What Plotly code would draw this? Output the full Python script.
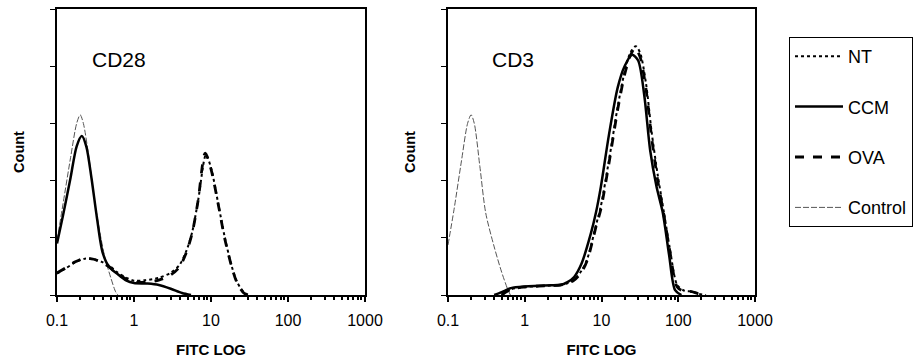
import plotly.graph_objects as go

# ---------------- data ----------------
series_names = ["NT", "CCM", "OVA", "Control"]
tick_vals = [0.1, 1, 10, 100, 1000]
tick_text = ["0.1", "1", "10", "100", "1000"]
panel_titles = ["CD28", "CD3"]

# Left panel (CD28)
nt_L_x = [0.1, 0.13, 0.17, 0.23, 0.3, 0.38, 0.48, 0.6, 0.8, 1.0, 1.4, 2.1, 3, 3.9, 4.8, 5.7, 6.8, 8.6, 10, 12.6, 15, 18.6, 22, 27, 31]
nt_L_y = [7.5, 9.3, 11.3, 12.7, 12.5, 11.6, 10.2, 8, 6, 5, 5.2, 6, 7.8, 10.5, 15.5, 22, 33, 49, 44.5, 31, 20.5, 10, 4.3, 0.8, 0]
ccm_L_x = [0.1, 0.12, 0.15, 0.18, 0.21, 0.24, 0.28, 0.33, 0.39, 0.47, 0.6, 0.8, 1.0, 1.5, 2.1, 3, 4.2, 5.5]
ccm_L_y = [18, 28, 41, 52, 55.6, 52, 41, 27, 15, 10, 7.5, 5, 4.2, 4, 3.5, 2.2, 0.7, 0]
ova_L_x = [0.1, 0.13, 0.17, 0.23, 0.3, 0.38, 0.48, 0.6, 0.8, 1.0, 1.4, 2.1, 3, 3.9, 4.8, 5.7, 6.8, 8.4, 10, 12.6, 15, 18.6, 22, 26.7, 30]
ova_L_y = [7.7, 9.5, 11.5, 12.9, 12.5, 11.3, 9.8, 7.5, 5.5, 4.5, 4.5, 5.2, 7, 9.8, 15, 21.7, 33, 49.6, 44, 30.8, 20, 9.8, 4, 0.7, 0]
ctrl_L_x = [0.1, 0.12, 0.15, 0.18, 0.2, 0.22, 0.26, 0.3, 0.36, 0.42, 0.5, 0.58, 0.62]
ctrl_L_y = [19, 32, 48, 60, 63, 60, 48, 35, 22, 13, 6, 1, 0]

# Right panel (CD3)
nt_R_x = [0.5, 0.66, 1, 1.5, 2.2, 2.9, 3.6, 4.4, 5.5, 6.5, 7.5, 8.5, 9.8, 12.5, 16.3, 20, 24, 28, 32, 38, 45, 54, 65, 78, 97, 120, 150, 180, 230]
nt_R_y = [0, 2, 2.8, 3.1, 3.3, 3.5, 4.1, 5.4, 8.5, 12.5, 18.5, 24.5, 31, 47, 66, 78, 85, 87, 84.5, 74, 57, 42, 29, 16, 3.5, 1.5, 1.2, 0.5, 0]
ccm_R_x = [0.4, 0.5, 0.66, 1, 1.5, 2.2, 2.9, 3.6, 4.4, 5.5, 7.3, 8.5, 9.8, 12.5, 16.3, 20, 25, 30, 36, 43, 52, 63, 76, 91, 110]
ccm_R_y = [0, 1, 2.4, 3, 3.2, 3.4, 3.5, 4.5, 6.3, 11, 21.7, 29, 37.8, 56, 72.7, 80, 84, 82, 70, 50.7, 38, 28.7, 14, 1.7, 0]
ova_R_x = [0.5, 0.66, 1, 1.5, 2.2, 2.9, 3.6, 4.4, 5.5, 6.5, 7.5, 8.5, 9.8, 12.5, 16.3, 20, 24, 27.5, 32, 38, 45, 54, 65, 78, 97, 120, 150, 180, 230]
ova_R_y = [0, 2, 2.8, 3.1, 3.3, 3.5, 4, 5.2, 8, 12, 18, 24, 30, 46, 65, 77, 84, 86.4, 83, 72, 55, 40, 28, 15, 2.8, 1.2, 1.2, 0.5, 0]
ctrl_R_x = [0.1, 0.12, 0.15, 0.18, 0.2, 0.22, 0.26, 0.31, 0.4, 0.5, 0.6, 0.65]
ctrl_R_y = [17.5, 30, 47, 60, 63, 60, 45, 28.7, 16.8, 8, 2, 0]

# ---------------- styles ----------------
styles = {
    "NT": dict(color="black", width=2, dash="dot"),
    "CCM": dict(color="black", width=2.5, dash="solid"),
    "OVA": dict(color="black", width=2.8, dash="dash"),
    "Control": dict(color="#555555", width=1, dash="6px,2px"),
}

panels = [
    ("x", "y", {"NT": (nt_L_x, nt_L_y), "CCM": (ccm_L_x, ccm_L_y),
                "OVA": (ova_L_x, ova_L_y), "Control": (ctrl_L_x, ctrl_L_y)}),
    ("x2", "y2", {"NT": (nt_R_x, nt_R_y), "CCM": (ccm_R_x, ccm_R_y),
                  "OVA": (ova_R_x, ova_R_y), "Control": (ctrl_R_x, ctrl_R_y)}),
]

FONT = "Liberation Sans, Arial, sans-serif"
fig = go.Figure()

for pi, (xa, ya, data) in enumerate(panels):
    for name in ["Control", "OVA", "CCM", "NT"]:
        xs, ys = data[name]
        fig.add_trace(go.Scatter(
            x=xs, y=ys, mode="lines", name=name, xaxis=xa, yaxis=ya,
            line=dict(shape="spline", smoothing=0.8, **styles[name]),
            showlegend=(pi == 0), legendgroup=name,
            legendrank=series_names.index(name) + 1,
        ))

minor_vals = [m * 10 ** e for e in (-1, 0, 1, 2) for m in range(2, 10)]

def xaxis_cfg(domain, anchor):
    return dict(
        domain=domain, anchor=anchor, type="log", range=[-1, 3],
        tickmode="array", tickvals=tick_vals, ticktext=tick_text,
        ticks="outside", ticklen=5, tickwidth=1.5, tickcolor="black",
        showline=True, linecolor="black", linewidth=2, mirror=True,
        showgrid=False, zeroline=False,
        tickfont=dict(family=FONT, size=16, color="black"),
        ticklabelstandoff=5,
        minor=dict(tickmode="array", tickvals=minor_vals, ticks="outside",
                   ticklen=3, tickcolor="black", showgrid=False),
        title=dict(text="<b>FITC LOG</b>", font=dict(family=FONT, size=15, color="black"),
                   standoff=16),
        automargin=False,
    )

def yaxis_cfg(anchor):
    return dict(
        domain=[1 - 295 / 359, 1 - 9 / 359], range=[0, 100], anchor=anchor,
        tickmode="array", tickvals=[0, 20, 40, 60, 80, 100], showticklabels=False,
        ticks="outside", ticklen=5, tickcolor="black",
        showline=True, linecolor="black", linewidth=2, mirror=True,
        showgrid=False, zeroline=False,
        title=dict(text="<b>Count</b>", font=dict(family=FONT, size=14.5, color="black"),
                   standoff=22),
        automargin=False,
    )

fig.update_layout(
    width=920, height=359,
    margin=dict(l=0, r=0, t=0, b=0),
    paper_bgcolor="white", plot_bgcolor="white",
    font=dict(family=FONT, color="black"),
    xaxis=xaxis_cfg([57 / 920, 365 / 920], "y"),
    yaxis=yaxis_cfg("x"),
    xaxis2=xaxis_cfg([448 / 920, 755 / 920], "y2"),
    yaxis2=yaxis_cfg("x2"),
    legend=dict(
        x=789 / 920, y=1 - 37 / 359, xanchor="left", yanchor="top",
        bordercolor="black", borderwidth=1, bgcolor="white",
        font=dict(family=FONT, size=18, color="black"),
        tracegroupgap=24, traceorder="grouped", itemwidth=48,
    ),
    showlegend=True,
)

for i, t in enumerate(panel_titles):
    fig.add_annotation(
        text=t, xref="x domain" if i == 0 else "x2 domain", yref="y domain" if i == 0 else "y2 domain",
        x=(90 - 57) / 308 if i == 0 else (490 - 448) / 307, y=1 - (60 - 9) / 286,
        xanchor="left", yanchor="middle", showarrow=False,
        font=dict(family=FONT, size=21, color="black"),
    )

fig.write_html("out.html", config={"displayModeBar": False},
               post_script="document.body.style.margin='0';")
